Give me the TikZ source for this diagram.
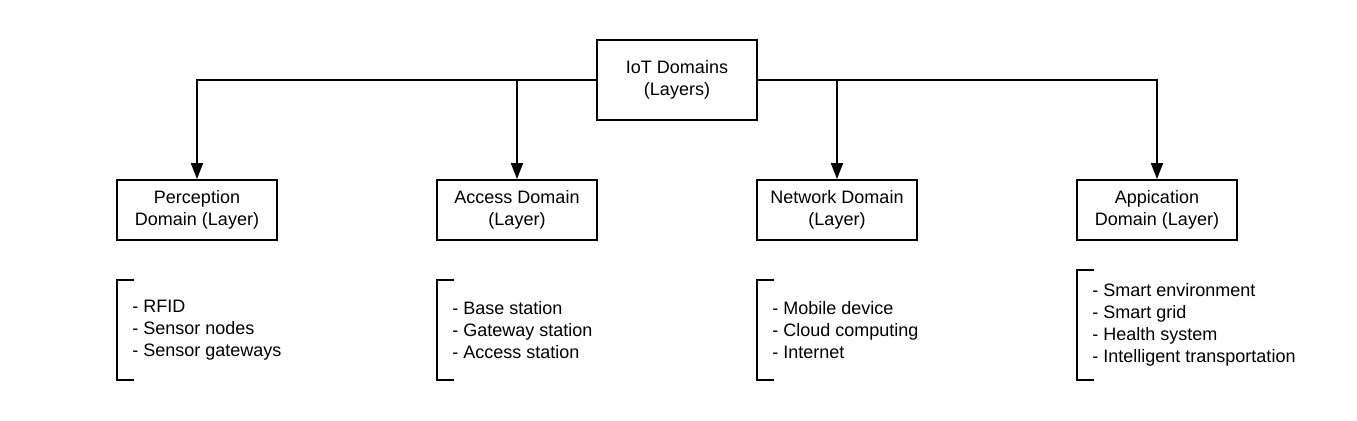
\documentclass[tikz,border=0pt]{standalone}
\usepackage{fontspec}
\setmainfont{Liberation Sans}
\usetikzlibrary{arrows.meta,positioning}

\begin{document}
\begin{tikzpicture}[
    x=0.02cm, y=-0.02cm,
    every node/.style={align=center, font=\fontsize{10.25}{12.5}\selectfont},
    layerbox/.style={rectangle, minimum width=3.2cm, minimum height=1.2cm, text centered, draw=black, line width=1.1pt},
    rootbox/.style={layerbox, minimum height=1.6cm},
    items/.style={align=left, anchor=west, inner xsep=0.3cm, inner ysep=0pt, minimum height=2cm},
    bracket/.style={line width=1.1pt},
    arrow/.style={line width=1.1pt, -{Triangle[length=0.32cm, width=0.24cm]}}
]
\useasboundingbox (0,0) rectangle (1357,420);

% Root
\node[rootbox] (iot) at (677,80) {IoT Domains\\(Layers)};

% Domains (layers)
\node[layerbox] (perc) at (197,210) {Perception\\Domain (Layer)};
\node[layerbox] (acc) at (517,210) {Access Domain\\(Layer)};
\node[layerbox] (net) at (837,210) {Network Domain\\(Layer)};
\node[layerbox] (app) at (1157,210) {Appication\\Domain (Layer)};

% Item lists
\node[items] (percl) at (117,330) {- RFID\\- Sensor nodes\\- Sensor gateways};
\node[items] (accl) at (437,330) {- Base station\\- Gateway station\\- Access station};
\node[items] (netl) at (757,330) {- Mobile device\\- Cloud computing\\- Internet};
\node[items, minimum height=2.2cm] (appl) at (1077,325) {- Smart environment\\- Smart grid\\- Health system\\- Intelligent transportation};

% Connections
\draw[arrow] (iot.west) -| (perc);
\draw[arrow] (iot.west) -| (acc);
\draw[arrow] (iot.east) -| (net);
\draw[arrow] (iot.east) -| (app);

% Brackets
\foreach \l in {percl,accl,netl,appl}
  \draw[bracket] ([xshift=17*0.02cm]\l.north west) -- (\l.north west) -- (\l.south west) -- ++(17,0);

\end{tikzpicture}
\end{document}
